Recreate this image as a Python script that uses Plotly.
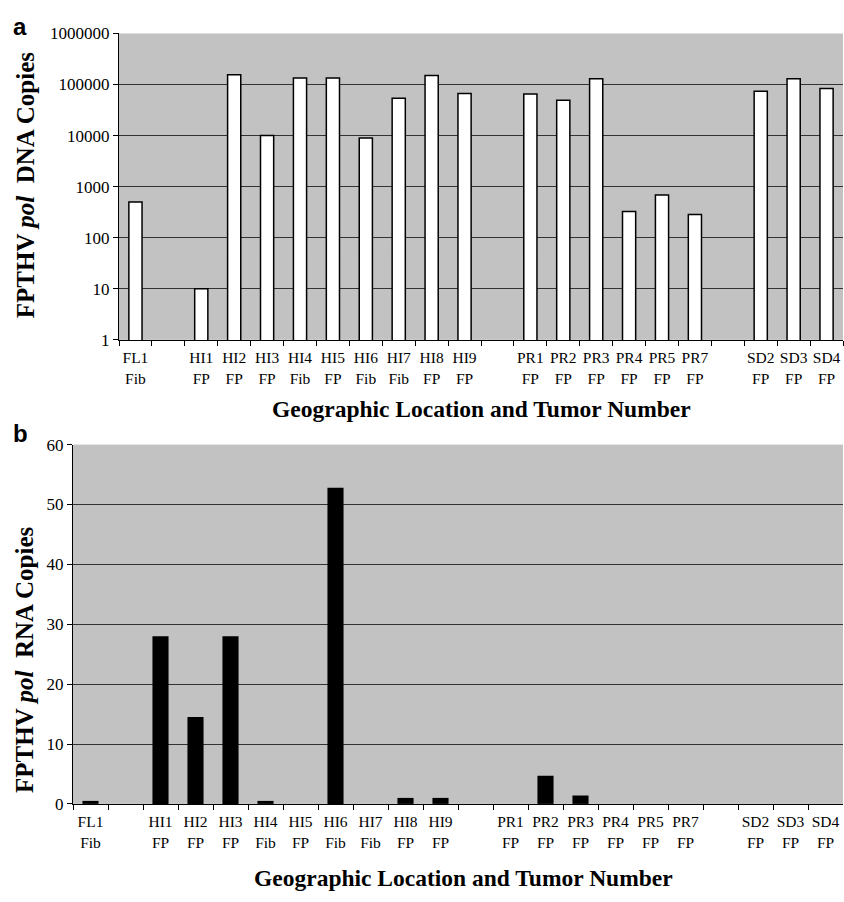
import plotly.graph_objects as go

categories = ["FL1<br>Fib", " ", "HI1<br>FP", "HI2<br>FP", "HI3<br>FP", "HI4<br>Fib", "HI5<br>FP",
              "HI6<br>Fib", "HI7<br>Fib", "HI8<br>FP", "HI9<br>FP", "  ", "PR1<br>FP", "PR2<br>FP",
              "PR3<br>FP", "PR4<br>FP", "PR5<br>FP", "PR7<br>FP", "   ", "SD2<br>FP", "SD3<br>FP", "SD4<br>FP"]
dna_copies = [500, None, 10, 155000, 10000, 135000, 135000, 9000, 54000, 150000, 67000, None,
              65000, 49000, 130000, 325, 690, 285, None, 74000, 130000, 84000]
rna_copies = [0.5, None, 28, 14.5, 28, 0.5, 0, 52.8, 0, 1.0, 1.0, None,
              0, 4.7, 1.4, 0, 0, 0, None, 0, 0, 0]
dna_ticks = [1, 10, 100, 1000, 10000, 100000, 1000000]
dna_ticklabels = ["1", "10", "100", "1000", "10000", "100000", "1000000"]
rna_ticks = [0, 10, 20, 30, 40, 50, 60]

W, H = 844, 902
serif = "Liberation Serif"

fig = go.Figure()
fig.add_trace(go.Bar(x=categories, y=dna_copies, xaxis="x", yaxis="y", width=0.4,
                     marker=dict(color="white", line=dict(color="black", width=1.5)),
                     showlegend=False))
fig.add_trace(go.Bar(x=categories, y=rna_copies, xaxis="x2", yaxis="y2", width=0.46,
                     marker=dict(color="black", line=dict(color="black", width=0)),
                     showlegend=False))

xaxis_common = dict(showline=True, linecolor="black", linewidth=1, ticks="outside",
                    tickcolor="black", ticklen=5, tickangle=0, type="category", tickson="boundaries",
                    categoryorder="array", categoryarray=categories, showgrid=False,
                    ticklabelstandoff=4,
                    tickfont=dict(family=serif, size=15.5, color="black"))
yaxis_common = dict(showline=True, linecolor="black", linewidth=1, ticks="outside",
                    tickcolor="black", ticklen=5, showgrid=True, gridcolor="#333333", gridwidth=1,
                    tickfont=dict(family=serif, size=17, color="black"))

fig.update_layout(
    width=W, height=H, margin=dict(l=0, r=0, t=0, b=0),
    paper_bgcolor="white", plot_bgcolor="#c2c2c2",
    xaxis=dict(domain=[119 / W, 843 / W], anchor="y", **xaxis_common),
    yaxis=dict(domain=[1 - 338 / H, 1 - 25 / H], anchor="x", type="log", range=[0, 6],
               tickvals=dna_ticks, ticktext=dna_ticklabels, **yaxis_common),
    xaxis2=dict(domain=[73 / W, 843 / W], anchor="y2", **xaxis_common),
    yaxis2=dict(domain=[1 - 812 / H, 1 - 445 / H], anchor="x2", range=[0, 60],
                tickvals=rna_ticks, zeroline=False, **yaxis_common),
    bargap=0.5,
)

anns = [
    dict(text="<b>FPTHV <i>pol</i>  DNA Copies</b>", x=25 / W, y=1 - 180 / H, textangle=-90, size=25),
    dict(text="<b>FPTHV <i>pol</i>  RNA Copies</b>", x=25 / W, y=1 - 665 / H, textangle=-90, size=25),
    dict(text="<b>Geographic Location and Tumor Number</b>", x=482 / W, y=1 - 409 / H, textangle=0, size=23.5),
    dict(text="<b>Geographic Location and Tumor Number</b>", x=463 / W, y=1 - 888 / H, textangle=0, size=23.5),
]
for a in anns:
    fig.add_annotation(xref="paper", yref="paper", showarrow=False,
                       font=dict(family=serif, size=a["size"], color="black"),
                       xanchor="center", yanchor="middle", text=a["text"], x=a["x"], y=a["y"],
                       textangle=a["textangle"])
fig.add_annotation(text="<b>a</b>", x=20 / W, y=1 - 18 / H, xref="paper", yref="paper", showarrow=False,
                   font=dict(family="Liberation Sans", size=24, color="black"), xanchor="center", yanchor="middle")
fig.add_annotation(text="<b>b</b>", x=20 / W, y=1 - 434 / H, xref="paper", yref="paper", showarrow=False,
                   font=dict(family="Liberation Sans", size=24, color="black"), xanchor="center", yanchor="middle")

fig.write_html("out.html")
